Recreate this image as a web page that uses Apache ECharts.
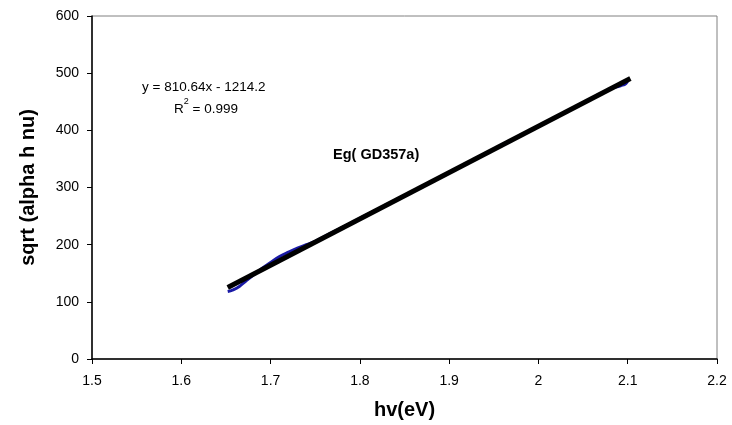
<!DOCTYPE html>
<html>
<head>
<meta charset="utf-8">
<script src="https://cdn.jsdelivr.net/npm/echarts@6/dist/echarts.min.js"></script>
<style>
  html, body { margin: 0; padding: 0; background: #fff; }
  #chart { width: 732px; height: 425px; }
</style>
</head>
<body>
<div id="chart"></div>
<script>
// Measured photon energy (eV) and sqrt(alpha h nu)
const energy = [1.652, 1.658, 1.665, 1.672, 1.680, 1.690, 1.700, 1.710, 1.720, 1.730, 1.740, 1.750,
                1.770, 1.800, 1.850, 1.900, 1.950, 2.000, 2.050, 2.080, 2.092, 2.098, 2.100];
const sqrtAlphaHnu = [118, 121, 127, 136, 146, 158, 169, 179, 187, 194, 200, 206,
                      222, 246, 286, 326, 367, 407, 448, 472, 478, 482, 488];

// Linear fit y = slope * x + intercept, drawn over the fitted range
const fitSlope = 810.64;
const fitIntercept = -1214.2;
const fitRange = [1.652, 2.103];
const rSquared = '0.999';
const seriesName = 'Eg( GD357a)';

const xTicks = { min: 1.5, max: 2.2, interval: 0.1 };
const yTicks = { min: 0, max: 600, interval: 100 };

const dataPoints = energy.map((x, i) => [x, sqrtAlphaHnu[i]]);
const fitPoints = fitRange.map(x => [x, fitSlope * x + fitIntercept]);

const font = 'Arial, "Liberation Sans", sans-serif';
const chart = echarts.init(document.getElementById('chart'));

chart.setOption({
  animation: false,
  backgroundColor: '#fff',
  grid: {
    left: 92, right: 15, top: 16, bottom: 66,
    show: true, borderColor: '#808080', borderWidth: 1, backgroundColor: '#fff'
  },
  xAxis: {
    type: 'value',
    min: xTicks.min, max: xTicks.max, interval: xTicks.interval,
    name: 'hv(eV)', nameLocation: 'middle', nameGap: 41,
    nameTextStyle: { fontFamily: font, fontSize: 20, fontWeight: 'bold', color: '#000' },
    axisLine: { show: true, onZero: false, lineStyle: { color: '#000', width: 1.5 } },
    axisTick: { show: true, inside: false, length: 5, lineStyle: { color: '#000' } },
    axisLabel: { fontFamily: font, fontSize: 14, color: '#000', margin: 15 },
    splitLine: { show: false }
  },
  yAxis: {
    type: 'value',
    min: yTicks.min, max: yTicks.max, interval: yTicks.interval,
    name: 'sqrt (alpha h nu)', nameLocation: 'middle', nameGap: 54,
    nameTextStyle: { fontFamily: font, fontSize: 20, fontWeight: 'bold', color: '#000' },
    axisLine: { show: true, onZero: false, lineStyle: { color: '#000', width: 1.5 } },
    axisTick: { show: true, inside: false, length: 5, lineStyle: { color: '#000' } },
    axisLabel: { fontFamily: font, fontSize: 14, color: '#000', margin: 13 },
    splitLine: { show: false }
  },
  series: [
    {
      name: 'data',
      type: 'line',
      data: dataPoints,
      smooth: true,
      showSymbol: false,
      lineStyle: { color: '#1a1aa6', width: 3 },
      z: 2
    },
    {
      name: 'fit',
      type: 'line',
      data: fitPoints,
      showSymbol: false,
      lineStyle: { color: '#000', width: 5 },
      z: 3
    }
  ],
  graphic: [
    {
      type: 'text', left: 142, top: 80, z: 10,
      style: { text: 'y = ' + fitSlope + 'x - ' + Math.abs(fitIntercept), font: '13.5px ' + font, fill: '#000' }
    },
    {
      type: 'text', left: 174, top: 97, z: 10,
      style: {
        text: '{b|R}{s|2}{b| = ' + rSquared + '}',
        rich: {
          b: { font: '13.5px ' + font, fill: '#000', verticalAlign: 'bottom', lineHeight: 19 },
          s: { font: '9px ' + font, fill: '#000', verticalAlign: 'top', lineHeight: 19, padding: [0, 0, 8, 0] }
        }
      }
    },
    {
      type: 'text', left: 333, top: 147, z: 10,
      style: { text: seriesName, font: 'bold 14.5px ' + font, fill: '#000' }
    }
  ]
});
</script>
</body>
</html>
